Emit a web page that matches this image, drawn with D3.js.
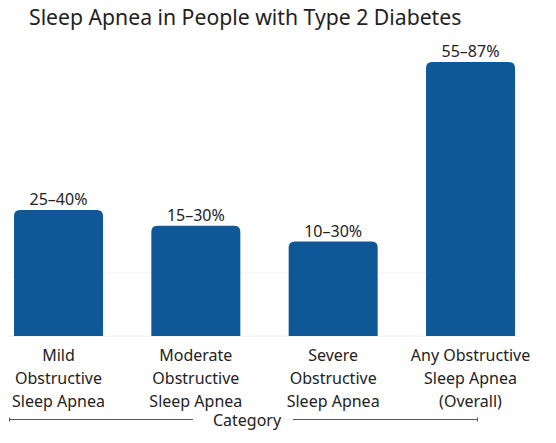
<!DOCTYPE html>
<html>
<head>
<meta charset="utf-8">
<script src="https://cdn.jsdelivr.net/npm/d3@7"></script>
<style>
  body { margin: 0; background: #fff; }
  text { font-family: "Noto Sans", "Open Sans", sans-serif; fill: #222; }
</style>
</head>
<body>
<script>
const categories = [
    ['Mild', 'Obstructive', 'Sleep Apnea'],
    ['Moderate', 'Obstructive', 'Sleep Apnea'],
    ['Severe', 'Obstructive', 'Sleep Apnea'],
    ['Any Obstructive', 'Sleep Apnea', '(Overall)']
];
const values = [40, 35, 30, 87];   // bar heights as drawn
const valueLabels = ['25–40%', '15–30%', '10–30%', '55–87%'];
const gridValues = [0, 20];

const width = 556, height = 443;
const BLUE = '#0f5897';

const svg = d3.select('body').append('svg')
    .attr('width', width).attr('height', height);

const x = d3.scaleBand()
    .domain(d3.range(values.length))
    .range([14, 515])
    .paddingInner(0.352)
    .paddingOuter(0);

const y = d3.scaleLinear()
    .domain([0, 87])
    .range([336, 62]);

// faint grid
svg.append('g').selectAll('line')
    .data(gridValues)
  .join('line')
    .attr('x1', 8).attr('x2', 520)
    .attr('y1', d => y(d)).attr('y2', d => y(d))
    .attr('stroke', '#f2f2f2');

// bars, rounded on top only
function barPath(i) {
    const x0 = x(i), w = x.bandwidth(), y0 = y(values[i]), y1 = y(0), r = 6;
    return `M${x0},${y1} V${y0 + r} Q${x0},${y0} ${x0 + r},${y0} H${x0 + w - r}` +
        ` Q${x0 + w},${y0} ${x0 + w},${y0 + r} V${y1} Z`;
}
svg.append('g').selectAll('path')
    .data(d3.range(values.length))
  .join('path')
    .attr('d', barPath)
    .attr('fill', BLUE);

// value labels
svg.append('g').selectAll('text')
    .data(d3.range(values.length))
  .join('text')
    .attr('x', i => x(i) + x.bandwidth() / 2)
    .attr('y', i => y(values[i]) - 5)
    .attr('text-anchor', 'middle')
    .attr('font-size', 16)
    .text(i => valueLabels[i]);

// category labels
const cat = svg.append('g').selectAll('text')
    .data(d3.range(values.length))
  .join('text')
    .attr('text-anchor', 'middle')
    .attr('font-size', 16);
cat.selectAll('tspan')
    .data(i => categories[i].map(s => [i, s]))
  .join('tspan')
    .attr('x', d => x(d[0]) + x.bandwidth() / 2)
    .attr('y', (d, j) => 361 + j * 23)
    .text(d => d[1]);

// axis title with bracket line
svg.append('text')
    .attr('x', 247).attr('y', 426)
    .attr('text-anchor', 'middle')
    .attr('font-size', 16)
    .text('Category');
const line = svg.append('g')
    .attr('stroke', '#555').attr('stroke-width', 1);
line.append('line').attr('x1', 9).attr('x2', 193).attr('y1', 419.5).attr('y2', 419.5);
line.append('line').attr('x1', 293).attr('x2', 478).attr('y1', 419.5).attr('y2', 419.5);
line.append('line').attr('x1', 9.5).attr('x2', 9.5).attr('y1', 417.5).attr('y2', 421.5);
line.append('line').attr('x1', 477.5).attr('x2', 477.5).attr('y1', 417.5).attr('y2', 421.5);

// chart title
svg.append('text')
    .attr('x', 29).attr('y', 25)
    .attr('font-size', 21.2)
    .text('Sleep Apnea in People with Type 2 Diabetes');
</script>
</body>
</html>
